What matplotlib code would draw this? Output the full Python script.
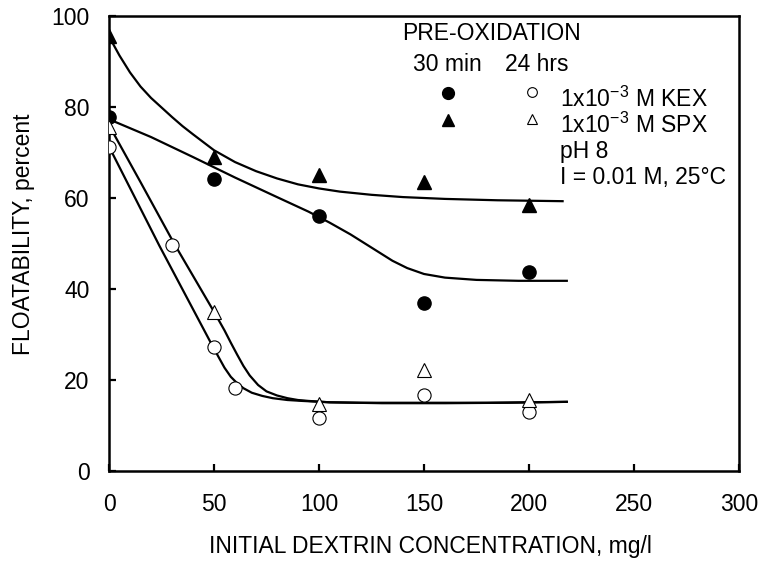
import matplotlib
matplotlib.use('Agg')
import matplotlib.pyplot as plt

plt.rcParams['font.family'] = ['Liberation Sans', 'DejaVu Sans']
plt.rcParams['mathtext.fontset'] = 'custom'
plt.rcParams['mathtext.rm'] = 'Liberation Sans'
plt.rcParams['mathtext.it'] = 'Liberation Sans'
plt.rcParams['mathtext.default'] = 'regular'

# measured points
kex_30_x = [0, 50, 100, 150, 200]
kex_30_y = [77.7, 64.2, 56.1, 37.0, 43.8]
spx_30_x = [0, 50, 100, 150, 200]
spx_30_y = [95.5, 69.1, 65.0, 63.6, 58.4]
kex_24_x = [0, 30, 50, 60, 100, 150, 200]
kex_24_y = [71.1, 49.6, 27.3, 18.3, 11.7, 16.6, 12.9]
spx_24_x = [0, 50, 100, 150, 200]
spx_24_y = [75.5, 35.0, 14.8, 22.2, 15.5]

# fitted curves
spx_30_fit_x = [0, 5, 10, 15, 20, 25, 30, 35, 40, 50, 60, 70, 80, 90, 100, 110, 125, 140, 160, 185, 216]
spx_30_fit_y = [95.5, 91.3, 87.6, 84.5, 82.0, 79.9, 77.8, 75.8, 74.0, 70.5, 67.9, 65.9, 64.3, 63.0,
                62.1, 61.4, 60.7, 60.2, 59.8, 59.5, 59.3]
kex_30_fit_x = [0, 20, 40, 60, 80, 95, 105, 115, 125, 135, 142, 150, 160, 175, 195, 218]
kex_30_fit_y = [77.3, 73.4, 69.0, 64.5, 60.2, 57.0, 54.6, 52.0, 49.1, 46.2, 44.6, 43.3, 42.5, 42.0,
                41.8, 41.8]
spx_24_fit_x = [0, 15, 31, 50, 55, 58, 61, 64, 67, 71, 75, 80, 85, 90, 95, 105, 120, 150, 180, 218]
spx_24_fit_y = [76.0, 63.5, 50.0, 35.0, 30.9, 28.2, 25.6, 23.1, 21.0, 18.9, 17.5, 16.6, 16.0, 15.6,
                15.4, 15.1, 15.0, 15.0, 15.0, 15.2]
kex_24_fit_x = [0, 24, 48, 52, 55, 58, 61, 64, 68, 73, 78, 85, 92, 105, 130, 160, 190, 218]
kex_24_fit_y = [71.3, 49.5, 28.6, 25.2, 22.7, 20.7, 19.3, 18.2, 17.2, 16.5, 16.0, 15.6, 15.4, 15.1,
                14.9, 14.9, 15.0, 15.2]

x_ticks = [0, 50, 100, 150, 200, 250, 300]
y_ticks = [0, 20, 40, 60, 80, 100]

FS = 16.5
LW = 1.6

fig = plt.figure(figsize=(7.6, 5.61), dpi=100)
ax = fig.add_axes([109 / 760, 1 - 471 / 561, 630 / 760, 455 / 561])

for fx, fy in [(spx_30_fit_x, spx_30_fit_y), (kex_30_fit_x, kex_30_fit_y),
               (spx_24_fit_x, spx_24_fit_y), (kex_24_fit_x, kex_24_fit_y)]:
    ax.plot(fx, fy, color='black', lw=LW, zorder=2, solid_joinstyle='round')

ax.plot(kex_30_x, kex_30_y, 'o', ms=9.5, mfc='black', mec='black', ls='none', zorder=3)
ax.plot(spx_30_x, spx_30_y, '^', ms=10, mfc='black', mec='black', ls='none', zorder=3)
ax.plot(kex_24_x, kex_24_y, 'o', ms=9.5, mfc='white', mec='black', mew=0.8, ls='none', zorder=3)
ax.plot(spx_24_x, spx_24_y, '^', ms=10, mfc='white', mec='black', mew=0.8, ls='none', zorder=3)

ax.set_xlim(0, 300)
ax.set_ylim(0, 100)
ax.set_xticks(x_ticks)
ax.set_yticks(y_ticks)
ax.tick_params(direction='in', length=5, width=1.6, labelsize=FS)
ax.tick_params(axis='x', pad=16)
ax.tick_params(axis='y', pad=14)
for s in ax.spines.values():
    s.set_linewidth(1.8)

ax.set_xlabel('INITIAL DEXTRIN CONCENTRATION, mg/l', fontsize=FS)
ax.set_ylabel('FLOATABILITY, percent', fontsize=FS)
ax.xaxis.set_label_coords(0.51, -0.14)
ax.yaxis.set_label_coords(-0.117, 0.521)

# legend block
tr = ax.transAxes
ax.text(0.465, 0.962, 'PRE-OXIDATION', transform=tr, fontsize=FS, va='center', ha='left')
ax.text(0.482, 0.8945, '30 min', transform=tr, fontsize=FS, va='center', ha='left')
ax.text(0.6286, 0.8945, '24 hrs', transform=tr, fontsize=FS, va='center', ha='left')
ax.plot([0.5386], [0.830], 'o', ms=8.5, mfc='black', mec='black', transform=tr, clip_on=False)
ax.plot([0.671], [0.834], 'o', ms=7, mfc='white', mec='black', mew=0.8, transform=tr, clip_on=False)
ax.plot([0.5386], [0.771], '^', ms=8.5, mfc='black', mec='black', transform=tr, clip_on=False)
ax.plot([0.671], [0.773], '^', ms=7, mfc='white', mec='black', mew=0.8, transform=tr, clip_on=False)
ax.text(0.716, 0.818, r'1x10$^{-3}$ M KEX', transform=tr, fontsize=FS, va='center', ha='left')
ax.text(0.716, 0.759, r'1x10$^{-3}$ M SPX', transform=tr, fontsize=FS, va='center', ha='left')
ax.text(0.716, 0.702, 'pH 8', transform=tr, fontsize=FS, va='center', ha='left')
ax.text(0.716, 0.644, 'I = 0.01 M, 25°C', transform=tr, fontsize=FS, va='center', ha='left')

fig.savefig('out.png', dpi=100)
